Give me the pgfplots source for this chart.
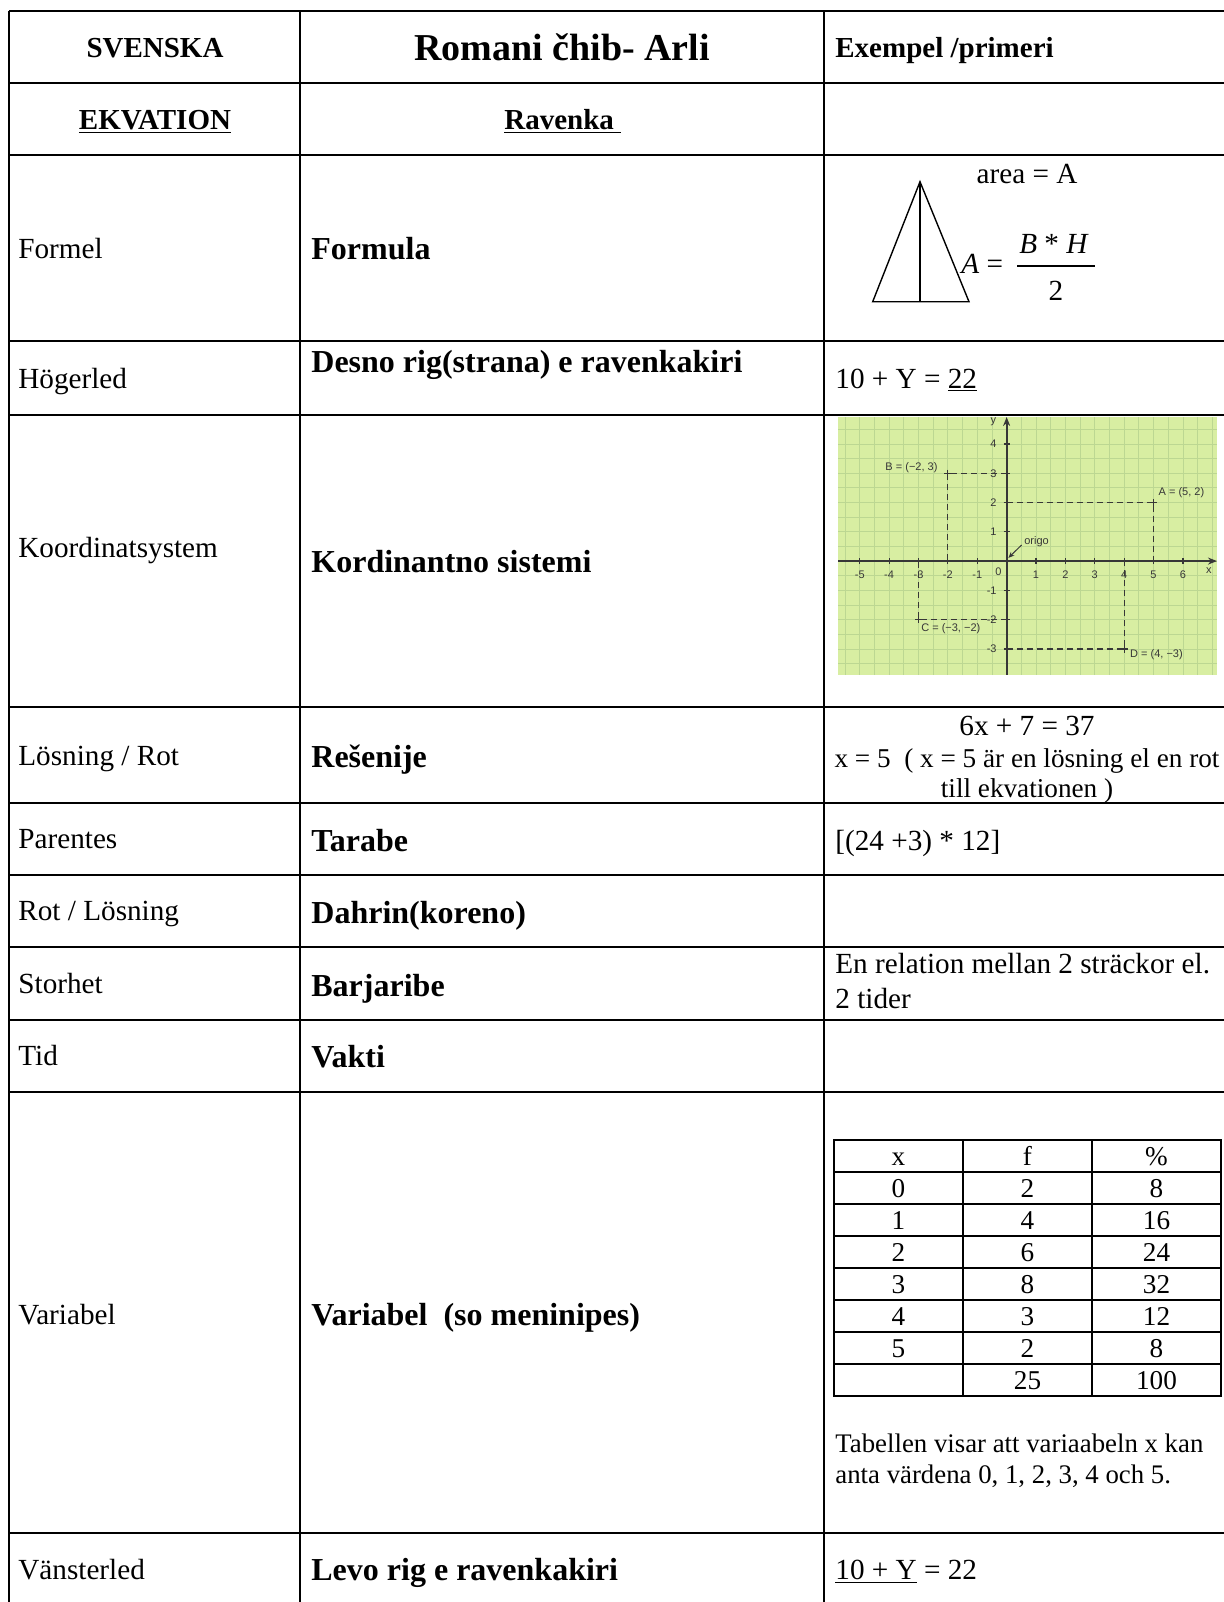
\documentclass[border=0pt]{standalone}
\usepackage{fontspec}
\setmainfont{Liberation Serif}
\setsansfont{Liberation Sans}
\usepackage{pgfplots}
\pgfplotsset{compat=1.18}
\usetikzlibrary{arrows.meta}
\definecolor{cgreen}{RGB}{216,238,162}
\definecolor{cgrid}{RGB}{188,215,146}
\definecolor{cax}{RGB}{55,55,55}
\tikzset{
  tn/.style={anchor=base west, inner sep=0pt, font=\fontsize{14.6}{17}\selectfont},
  ts/.style={anchor=base west, inner sep=0pt, font=\fontsize{13.4}{16}\selectfont},
  tc/.style={anchor=base, inner sep=0pt, font=\fontsize{14.6}{17}\selectfont},
  tcs/.style={anchor=base, inner sep=0pt, font=\fontsize{13.6}{16}\selectfont},
  tb/.style={anchor=base west, inner sep=0pt, font=\bfseries\fontsize{16}{19}\selectfont},
  hb/.style={inner sep=0pt, font=\bfseries\fontsize{14.5}{17}\selectfont},
  sm/.style={inner sep=0pt, font=\sffamily\fontsize{5.5}{6.5}\selectfont, text=cax},
}
\begin{document}
\begin{tikzpicture}
\clip (0,0) rectangle (612pt,801pt);
\begin{axis}[at={(0,0)},anchor=south west,width=612pt,height=801pt,scale only axis,
  xmin=0,xmax=1224,ymin=0,ymax=1602,y dir=reverse,hide axis,clip=false]
\path (axis cs:0,0) rectangle (axis cs:1224,1602);
% horizontal rules
\draw[line width=1pt] (axis cs:9,11) -- (axis cs:1224,11);
\draw[line width=1pt] (axis cs:9,83) -- (axis cs:1224,83);
\draw[line width=1pt] (axis cs:9,155) -- (axis cs:1224,155);
\draw[line width=1pt] (axis cs:9,341) -- (axis cs:1224,341);
\draw[line width=1pt] (axis cs:9,415) -- (axis cs:1224,415);
\draw[line width=1pt] (axis cs:9,707) -- (axis cs:1224,707);
\draw[line width=1pt] (axis cs:9,803) -- (axis cs:1224,803);
\draw[line width=1pt] (axis cs:9,875) -- (axis cs:1224,875);
\draw[line width=1pt] (axis cs:9,947) -- (axis cs:1224,947);
\draw[line width=1pt] (axis cs:9,1020) -- (axis cs:1224,1020);
\draw[line width=1pt] (axis cs:9,1092) -- (axis cs:1224,1092);
\draw[line width=1pt] (axis cs:9,1533) -- (axis cs:1224,1533);
% vertical rules
\draw[line width=1pt] (axis cs:9,11) -- (axis cs:9,1602);
\draw[line width=1pt] (axis cs:300,11) -- (axis cs:300,1602);
\draw[line width=1pt] (axis cs:824,11) -- (axis cs:824,1602);
% header
\node[hb, anchor=base] at (axis cs:155,57) {SVENSKA};
\node[inner sep=0pt, anchor=base, font=\bfseries\fontsize{19}{22}\selectfont] at (axis cs:562,60) {Romani čhib- Arli};
\node[hb, anchor=base west] at (axis cs:835,57) {Exempel /primeri};
\node[hb, anchor=base] at (axis cs:155,129) {\underline{EKVATION}};
\node[hb, anchor=base west] at (axis cs:504,129) {\underline{Ravenka\ }};
% column 1
\node[tn] at (axis cs:18,258) {Formel};
\node[tn] at (axis cs:18,388) {Högerled};
\node[tn] at (axis cs:18,557) {Koordinatsystem};
\node[tn] at (axis cs:18,765) {Lösning / Rot};
\node[tn] at (axis cs:18,848) {Parentes};
\node[tn] at (axis cs:18,920) {Rot / Lösning};
\node[tn] at (axis cs:18,993) {Storhet};
\node[tn] at (axis cs:18,1065) {Tid};
\node[tn] at (axis cs:18,1324) {Variabel};
\node[tn] at (axis cs:18,1579) {Vänsterled};
% column 2
\node[tb] at (axis cs:311,259) {Formula};
\node[tb] at (axis cs:311,372) {Desno rig(strana) e ravenkakiri};
\node[tb] at (axis cs:311,572) {Kordinantno sistemi};
\node[tb] at (axis cs:311,767) {Rešenije};
\node[tb] at (axis cs:311,851) {Tarabe};
\node[tb] at (axis cs:311,923) {Dahrin(koreno)};
\node[tb] at (axis cs:311,996) {Barjaribe};
\node[tb] at (axis cs:311,1067) {Vakti};
\node[tb] at (axis cs:311,1325) {Variabel\ \ (so meninipes)};
\node[tb] at (axis cs:311,1580) {Levo rig e ravenkakiri};
% column 3
\node[tc] at (axis cs:1027,183) {area = A};
\draw[line width=0.7pt] (axis cs:872.7,301.7) -- (axis cs:920,181.7) -- (axis cs:969,301.7) -- cycle;
\draw[line width=0.7pt] (axis cs:920,181.7) -- (axis cs:920,301.7);
\node[tn] at (axis cs:961,273) {\textit{A} =};
\node[tc] at (axis cs:1054,253) {\textit{B} * \textit{H}};
\draw[line width=0.6pt] (axis cs:1017,266) -- (axis cs:1095,266);
\node[tc] at (axis cs:1056,300) {2};
\node[tn] at (axis cs:835,388) {10 + Y = \underline{22}};
\node[tc] at (axis cs:1027,735) {6x + 7 = 37};
\node[tcs] at (axis cs:1027,767) {x = 5\ \ ( x = 5 är en lösning el en rot};
\node[tcs] at (axis cs:1027,797) {till ekvationen )};
\node[tn] at (axis cs:835,850) {[(24 +3) * 12]};
\node[tn] at (axis cs:835,973) {En relation mellan 2 sträckor el.};
\node[tn] at (axis cs:835,1008) {2 tider};
% inner frequency table
\draw[line width=1pt] (axis cs:834,1140) rectangle (axis cs:1221,1396);
\draw[line width=1pt] (axis cs:963,1140) -- (axis cs:963,1396);
\draw[line width=1pt] (axis cs:1092,1140) -- (axis cs:1092,1396);
\draw[line width=1pt] (axis cs:834,1172) -- (axis cs:1221,1172);
\draw[line width=1pt] (axis cs:834,1204) -- (axis cs:1221,1204);
\draw[line width=1pt] (axis cs:834,1236) -- (axis cs:1221,1236);
\draw[line width=1pt] (axis cs:834,1268) -- (axis cs:1221,1268);
\draw[line width=1pt] (axis cs:834,1300) -- (axis cs:1221,1300);
\draw[line width=1pt] (axis cs:834,1332) -- (axis cs:1221,1332);
\draw[line width=1pt] (axis cs:834,1364) -- (axis cs:1221,1364);
\node[tcs] at (axis cs:898.5,1165) {x};
\node[tcs] at (axis cs:1027.5,1165) {f};
\node[tcs] at (axis cs:1156.5,1165) {\%};
\node[tcs] at (axis cs:898.5,1197) {0};
\node[tcs] at (axis cs:1027.5,1197) {2};
\node[tcs] at (axis cs:1156.5,1197) {8};
\node[tcs] at (axis cs:898.5,1229) {1};
\node[tcs] at (axis cs:1027.5,1229) {4};
\node[tcs] at (axis cs:1156.5,1229) {16};
\node[tcs] at (axis cs:898.5,1261) {2};
\node[tcs] at (axis cs:1027.5,1261) {6};
\node[tcs] at (axis cs:1156.5,1261) {24};
\node[tcs] at (axis cs:898.5,1293) {3};
\node[tcs] at (axis cs:1027.5,1293) {8};
\node[tcs] at (axis cs:1156.5,1293) {32};
\node[tcs] at (axis cs:898.5,1325) {4};
\node[tcs] at (axis cs:1027.5,1325) {3};
\node[tcs] at (axis cs:1156.5,1325) {12};
\node[tcs] at (axis cs:898.5,1357) {5};
\node[tcs] at (axis cs:1027.5,1357) {2};
\node[tcs] at (axis cs:1156.5,1357) {8};
\node[tcs] at (axis cs:1027.5,1389) {25};
\node[tcs] at (axis cs:1156.5,1389) {100};
\node[ts] at (axis cs:835,1452) {Tabellen visar att variaabeln x kan};
\node[ts] at (axis cs:835,1483) {anta värdena 0, 1, 2, 3, 4 och 5.};
\node[tn] at (axis cs:835,1579) {\underline{10 + Y} = 22};
\end{axis}

% coordinate system example
\begin{axis}[at={(419pt,463.5pt)},anchor=south west,width=189.5pt,height=129pt,scale only axis,
  xmin=-5.74,xmax=7.16,ymin=-3.89,ymax=4.92,
  axis background/.style={fill=cgreen},
  axis x line=middle, axis y line=middle,
  axis line style={cax, line width=0.9pt},
  x axis line style={-{Stealth[length=4.5pt,width=3.5pt]}},
  y axis line style={-{Stealth[length=4.5pt,width=3.5pt]}},
  xtick={-5,-4,-3,-2,-1,1,2,3,4,5,6}, ytick={-3,-2,-1,1,2,3,4},
  minor xtick={-5.5,-5,...,7}, minor ytick={-3.5,-3,...,4.5},
  grid=minor, minor grid style={cgrid, line width=0.4pt},
  minor tick length=0pt, major tick length=3pt,
  tick style={cax, line width=0.6pt}, tick align=center,
  ticklabel style={font=\sffamily\fontsize{5.5}{6.5}\selectfont, text=cax},
  /pgf/number format/assume math mode=true,
  clip=false]
\addplot[cax, line width=0.6pt, dash pattern=on 3pt off 2pt] coordinates {(0,3) (-2,3) (-2,0)};
\addplot[cax, line width=0.6pt, dash pattern=on 3pt off 2pt] coordinates {(0,2) (5,2) (5,0)};
\addplot[cax, line width=0.6pt, dash pattern=on 3pt off 2pt] coordinates {(0,-2) (-3,-2) (-3,0)};
\addplot[cax, line width=0.6pt, dash pattern=on 3pt off 2pt] coordinates {(0,-3) (4,-3) (4,0)};
\addplot[cax, only marks, mark=+, mark size=1.8pt, line width=0.6pt] coordinates {(-2,3) (5,2) (-3,-2) (4,-3)};
\node[sm] at (axis cs:-3.24,3.2) {B = (−2, 3)};
\node[sm] at (axis cs:5.95,2.34) {A = (5, 2)};
\node[sm] at (axis cs:-1.9,-2.32) {C = (−3, −2)};
\node[sm] at (axis cs:5.1,-3.2) {D = (4, −3)};
\node[sm] at (axis cs:1.02,0.66) {origo};
\draw[cax, line width=0.5pt, -{Stealth[length=3pt,width=2.5pt]}] (axis cs:0.51,0.55) -- (axis cs:0.06,0.11);
\node[sm] at (axis cs:6.88,-0.31) {x};
\node[sm] at (axis cs:-0.45,4.75) {y};
\node[sm] at (axis cs:-0.28,-0.36) {0};
\end{axis}
\end{tikzpicture}
\end{document}
